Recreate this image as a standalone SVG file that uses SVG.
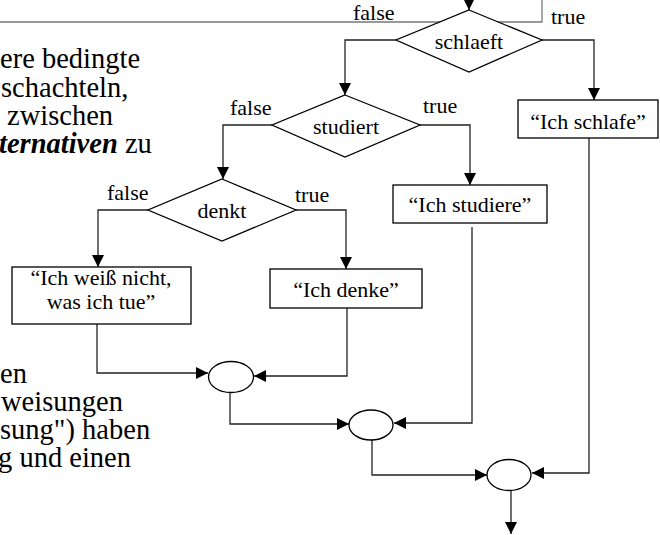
<svg xmlns="http://www.w3.org/2000/svg" width="660" height="535" viewBox="0 0 660 535">
<style>
.n{fill:#fff;stroke:#000;stroke-width:1.3}
.c{fill:none;stroke:#222;stroke-width:1.3}
.g{fill:none;stroke:#777;stroke-width:1.3}
.t{font-family:"Liberation Serif","Times New Roman",serif;font-size:22px;fill:#000}
.m{text-anchor:middle}
.bg{font-family:"Liberation Serif","Times New Roman",serif;font-size:28.5px;fill:#000}
</style>
<defs>
<marker id="a" viewBox="0 0 12 12" markerWidth="12" markerHeight="12" refX="12" refY="6" orient="auto" markerUnits="userSpaceOnUse"><path d="M0,0 L12,6 L0,12 z" fill="#000"/></marker>
</defs>
<rect width="660" height="535" fill="#fff"/>
<g id="background-text">
<text class="bg" x="0" y="68">ere bedingte</text>
<text class="bg" x="1" y="97">schachteln,</text>
<text class="bg" x="7" y="125">zwischen</text>
<text class="bg" x="-1" y="153"><tspan font-weight="bold" font-style="italic">ternativen</tspan> zu</text>
<text class="bg" x="0" y="383">en</text>
<text class="bg" x="1" y="411">weisungen</text>
<text class="bg" x="0" y="439">sung") haben</text>
<text class="bg" x="-2" y="467">g und einen</text>
</g>
<g id="connectors">
<path class="g" d="M0,22 H542 V0"/>
<path class="c" d="M469,-4 V10" marker-end="url(#a)"/>
<path class="c" d="M396,40 H345 V95" marker-end="url(#a)"/>
<path class="c" d="M542,40 H594 V100" marker-end="url(#a)"/>
<path class="c" d="M272,125 H223 V179" marker-end="url(#a)"/>
<path class="c" d="M420,125 H470 V185" marker-end="url(#a)"/>
<path class="c" d="M148,210 H98 V267" marker-end="url(#a)"/>
<path class="c" d="M296,210 H346 V269" marker-end="url(#a)"/>
<path class="c" d="M97,324 V373 H208" marker-end="url(#a)"/>
<path class="c" d="M347,308 V376 H254" marker-end="url(#a)"/>
<path class="c" d="M230,393 V424 H349" marker-end="url(#a)"/>
<path class="c" d="M472,227 V423 H394" marker-end="url(#a)"/>
<path class="c" d="M589,138 V473 H532" marker-end="url(#a)"/>
<path class="c" d="M372,440 V475 H487" marker-end="url(#a)"/>
<path class="c" d="M511,491 V534" marker-end="url(#a)"/>
<text class="t" x="353" y="20">false</text>
<text class="t" x="551" y="24">true</text>
<text class="t" x="230" y="115">false</text>
<text class="t" x="423" y="113">true</text>
<text class="t" x="107" y="200">false</text>
<text class="t" x="295" y="202">true</text>
</g>
<g id="schlaeft">
<polygon class="n" points="469,10 542,40 469,72 396,40"/>
<text class="t m" x="469" y="49">schlaeft</text>
</g>
<g id="studiert">
<polygon class="n" points="345,95 420,125 345,157 272,125"/>
<text class="t m" x="346" y="134">studiert</text>
</g>
<g id="denkt">
<polygon class="n" points="222,179 296,210 222,241 148,210"/>
<text class="t m" x="222" y="218">denkt</text>
</g>
<g id="ich-schlafe">
<rect class="n" x="518" y="100" width="140" height="38"/>
<text class="t m" x="588" y="129">“Ich schlafe”</text>
</g>
<g id="ich-studiere">
<rect class="n" x="393" y="185" width="154" height="38"/>
<text class="t m" x="470" y="212">“Ich studiere”</text>
</g>
<g id="ich-denke">
<rect class="n" x="270" y="269" width="152" height="39"/>
<text class="t m" x="346" y="297">“Ich denke”</text>
</g>
<g id="ich-weiss-nicht">
<rect class="n" x="12" y="267" width="179" height="57"/>
<text class="t m" x="101" y="285">“Ich weiß nicht,</text>
<text class="t m" x="101" y="309">was ich tue”</text>
</g>
<g id="merge1"><ellipse class="n" cx="231" cy="377" rx="22.5" ry="15.5"/></g>
<g id="merge2"><ellipse class="n" cx="371" cy="425" rx="22" ry="15"/></g>
<g id="merge3"><ellipse class="n" cx="509" cy="475" rx="22" ry="15.5"/></g>
</svg>
